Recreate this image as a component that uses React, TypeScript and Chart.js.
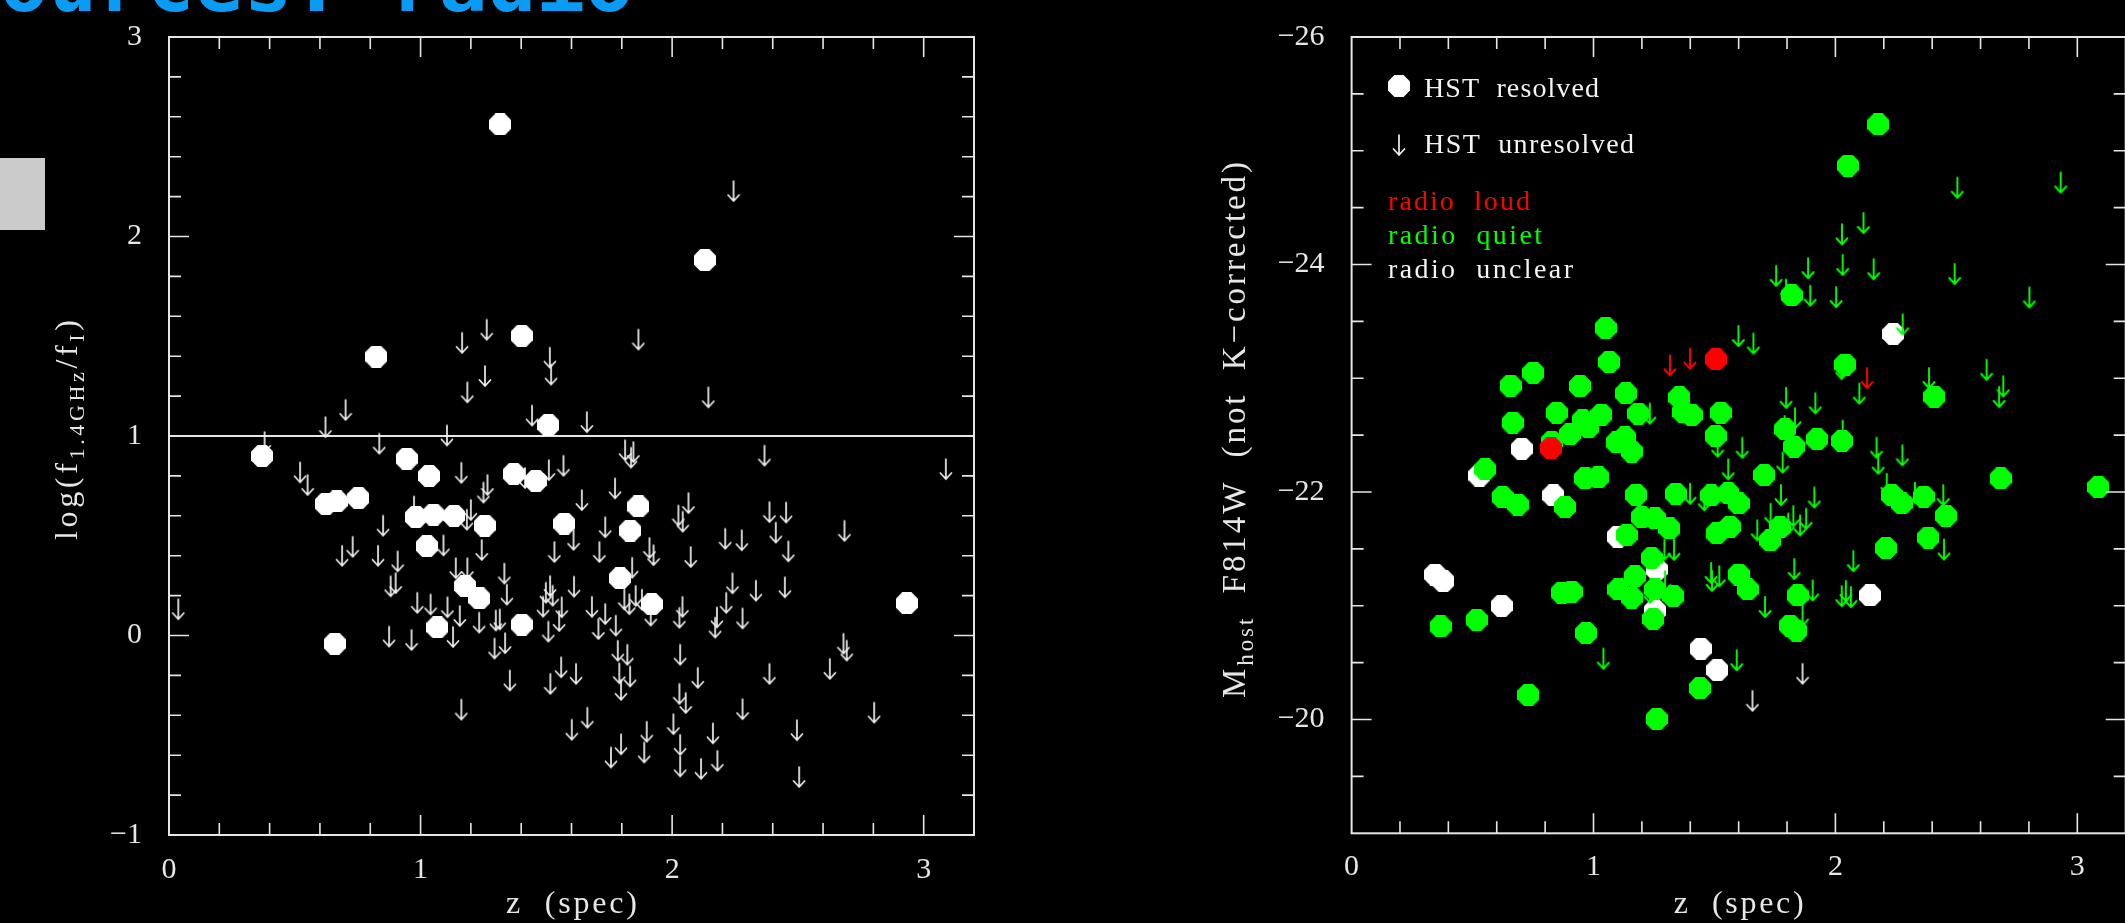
import React, { useEffect, useRef } from 'react';
import { Chart, registerables } from 'chart.js';

Chart.register(...registerables);

type P = [number, number];

// ---------------- LEFT PANEL: log(f1.4GHz/fI) vs z ----------------
const leftResolved: P[] = [
  [1.316, 2.562], [2.13, 1.882], [0.824, 1.398], [1.402, 1.502], [1.508, 1.055],
  [0.37, 0.9], [0.945, 0.886], [1.034, 0.8], [1.37, 0.81], [1.458, 0.775],
  [0.623, 0.66], [0.667, 0.672], [0.753, 0.689], [0.981, 0.594], [1.051, 0.606],
  [1.133, 0.6], [1.255, 0.551], [1.571, 0.561], [1.025, 0.448], [1.866, 0.647],
  [1.833, 0.526], [1.793, 0.287], [1.919, 0.157], [2.933, 0.162], [0.659, -0.041],
  [1.177, 0.248], [1.234, 0.186], [1.067, 0.041], [1.402, 0.055],
];

const leftUnresolved: P[] = [
  [2.244, 2.228], [1.263, 1.533], [1.165, 1.467], [1.866, 1.484], [1.514, 1.393],
  [1.519, 1.308], [1.256, 1.301], [1.186, 1.219], [2.144, 1.194], [0.702, 1.131],
  [1.443, 1.103], [1.661, 1.07], [0.622, 1.045], [1.105, 1.003], [0.38, 0.97],
  [0.836, 0.962], [1.813, 0.929], [1.846, 0.92], [1.837, 0.892], [2.367, 0.902],
  [3.088, 0.834], [0.521, 0.818], [0.551, 0.755], [1.162, 0.816], [1.266, 0.755],
  [1.25, 0.717], [1.51, 0.829], [1.568, 0.851], [1.415, 0.79], [0.974, 0.647],
  [1.2, 0.63], [1.184, 0.581], [0.851, 0.551], [1.773, 0.738], [1.641, 0.679],
  [2.065, 0.664], [2.025, 0.602], [2.042, 0.571], [2.387, 0.619], [2.453, 0.617],
  [2.412, 0.516], [2.685, 0.525], [1.734, 0.543], [1.608, 0.48], [2.211, 0.485],
  [2.277, 0.478], [1.711, 0.419], [1.91, 0.439], [2.462, 0.422], [0.73, 0.445],
  [1.091, 0.452], [1.243, 0.429], [1.532, 0.419], [1.926, 0.403], [2.074, 0.394],
  [1.841, 0.34], [0.688, 0.4], [0.831, 0.4], [0.909, 0.372], [0.901, 0.263],
  [0.881, 0.247], [1.14, 0.338], [1.186, 0.338], [1.61, 0.245], [1.681, 0.144],
  [1.734, 0.108], [1.707, 0.033], [1.776, 0.05], [1.81, 0.182], [1.83, 0.157],
  [1.855, 0.199], [1.88, 0.18], [1.915, 0.1], [2.24, 0.262], [2.333, 0.225],
  [2.448, 0.242], [2.215, 0.164], [2.041, 0.144], [2.029, 0.089], [2.178, 0.091],
  [2.171, 0.04], [2.28, 0.086], [1.784, -0.076], [1.822, -0.096], [2.032, -0.096],
  [1.618, -0.192], [1.79, -0.189], [1.833, -0.205], [1.797, -0.272], [2.102, -0.212],
  [2.387, -0.192], [2.681, -0.041], [2.694, -0.075], [2.627, -0.167], [2.029, -0.292],
  [2.054, -0.338], [2.28, -0.369], [2.803, -0.386], [1.663, -0.412], [1.601, -0.472],
  [2.005, -0.444], [1.899, -0.482], [2.162, -0.49], [2.496, -0.474], [1.797, -0.545],
  [2.032, -0.548], [1.757, -0.611], [1.889, -0.586], [2.18, -0.628], [2.032, -0.656],
  [2.115, -0.668], [2.505, -0.709], [0.037, 0.132], [1.333, 0.311], [1.343, 0.205],
  [0.987, 0.164], [1.04, 0.156], [1.107, 0.142], [1.156, 0.098], [1.233, 0.065],
  [1.299, 0.076], [1.315, 0.081], [0.875, -0.005], [0.964, -0.022], [1.129, -0.007],
  [1.294, -0.065], [1.336, -0.038], [1.515, 0.248], [1.498, 0.215], [1.525, 0.2],
  [1.487, 0.145], [1.561, 0.142], [1.551, 0.073], [1.508, 0.02], [1.559, -0.159],
  [1.355, -0.225], [1.516, -0.242], [1.162, -0.371],
];

const leftRefLine: P[] = [[0, 1], [3.2, 1]];
const leftXTicks = [0, 1, 2, 3];
const leftYTicks = [-1, 0, 1, 2, 3];

// ---------------- RIGHT PANEL: M_host vs z ----------------
const rightGreenDots: P[] = [
  [1.05, -23.443], [1.065, -23.144], [0.751, -23.048], [0.657, -22.935], [0.944, -22.932],
  [1.134, -22.868], [1.355, -22.833], [1.371, -22.703], [1.406, -22.677], [1.526, -22.697],
  [1.505, -22.494], [0.848, -22.697], [0.666, -22.61], [1.033, -22.68], [0.955, -22.63],
  [0.979, -22.57], [0.903, -22.51], [1.185, -22.69], [1.096, -22.436], [1.13, -22.48],
  [1.158, -22.356], [0.827, -22.44], [0.552, -22.2],
  [2.177, -25.232], [2.052, -24.87], [1.819, -23.729], [2.04, -23.121], [2.409, -22.839],
  [1.792, -22.552], [1.829, -22.4], [1.924, -22.464], [2.027, -22.45], [1.706, -22.15],
  [2.683, -22.12],
  [0.624, -21.956], [0.687, -21.89], [0.882, -21.869], [0.965, -22.121], [1.02, -22.13],
  [1.176, -21.976], [1.34, -21.985], [1.486, -21.97], [1.557, -21.99], [1.6, -21.9],
  [1.137, -21.623], [1.199, -21.78], [1.254, -21.768], [1.314, -21.68], [1.24, -21.42],
  [1.171, -21.26], [1.103, -21.144], [1.158, -21.072], [1.254, -21.144], [1.33, -21.086],
  [1.247, -20.884], [1.509, -21.637], [1.564, -21.695], [1.6, -21.275], [0.517, -20.876],
  [0.368, -20.818], [0.868, -21.116], [0.91, -21.124], [0.969, -20.761], [1.44, -20.276],
  [0.731, -20.217], [1.261, -20.005],
  [3.087, -22.044], [2.232, -21.974], [2.274, -21.9], [2.365, -21.96], [2.457, -21.791],
  [2.384, -21.6], [2.209, -21.507], [1.771, -21.69], [1.73, -21.574], [1.637, -21.145],
  [1.844, -21.092], [1.812, -20.826], [1.839, -20.782],
];
const rightRedDots: P[] = [[1.506, -23.167], [0.824, -22.385]];
const rightWhiteDots: P[] = [
  [2.239, -23.39], [0.703, -22.38], [0.528, -22.145], [0.834, -21.971], [1.1, -21.608],
  [1.261, -21.32], [1.254, -20.957], [0.345, -21.275], [0.379, -21.217], [0.62, -20.999],
  [1.443, -20.623], [1.512, -20.435], [2.143, -21.092],
];
const rightGreenArrows: P[] = [
  [1.513, -22.4], [1.158, -22.37], [1.233, -22.69], [2.504, -24.675], [2.931, -24.721],
  [2.116, -24.365], [2.027, -24.266], [1.755, -23.901], [1.887, -23.968], [2.03, -23.997],
  [2.158, -23.959], [2.493, -23.918], [1.796, -23.78], [1.896, -23.726], [2.003, -23.714],
  [2.802, -23.711], [2.278, -23.474], [1.599, -23.372], [1.661, -23.306], [2.026, -23.083],
  [2.387, -23.002], [2.625, -23.075], [2.694, -22.93], [2.677, -22.837], [1.796, -22.829],
  [1.917, -22.78], [2.099, -22.866], [1.833, -22.649], [2.03, -22.54], [1.615, -22.39],
  [2.17, -22.39], [2.277, -22.323], [1.782, -22.26], [2.177, -22.25], [1.557, -22.2],
  [1.399, -21.985], [1.458, -21.928], [1.293, -21.493], [1.333, -21.493], [1.234, -21.115],
  [1.296, -21.216], [1.486, -21.289], [1.52, -21.26], [1.49, -21.22], [1.041, -20.536],
  [1.592, -20.522], [1.775, -21.973], [1.913, -21.953], [2.212, -22.072], [2.329, -21.994],
  [2.446, -21.973], [2.449, -21.495], [1.732, -21.809], [1.826, -21.788], [1.879, -21.765],
  [1.854, -21.707], [1.805, -21.724], [1.677, -21.664], [1.83, -21.324], [2.074, -21.393],
  [1.906, -21.136], [2.026, -21.085], [2.043, -21.131], [2.064, -21.077], [1.709, -20.99],
  [1.864, -20.915], [1.79, -22.58],
];
const rightRedArrows: P[] = [[1.316, -23.115], [1.399, -23.173], [2.131, -23.002]];
const rightWhiteArrows: P[] = [[1.864, -20.403], [1.657, -20.165]];
const rightXTicks = [0, 1, 2, 3];
const rightYTicks = [-26, -24, -22, -20];

// ---------------- styles ----------------
const SERIF = '"Liberation Serif", "DejaVu Serif", serif';
const FG = '#e6e6e6';
const WHITE = '#ffffff';
const GREEN = '#00ff00';
const RED = '#ff0000';

function octagon(color: string, d = 22): HTMLCanvasElement {
  const c = document.createElement('canvas');
  c.width = d;
  c.height = d;
  const ctx = c.getContext('2d')!;
  const r = d / 2 / Math.cos(Math.PI / 8);
  ctx.fillStyle = color;
  ctx.beginPath();
  for (let k = 0; k < 8; k++) {
    const a = Math.PI / 8 + (k * Math.PI) / 4;
    const px = d / 2 + r * Math.cos(a);
    const py = d / 2 + r * Math.sin(a);
    if (k === 0) ctx.moveTo(px, py);
    else ctx.lineTo(px, py);
  }
  ctx.closePath();
  ctx.fill();
  return c;
}

function arrow(color: string, lw = 1.7): HTMLCanvasElement {
  const w = 14, h = 24;
  const c = document.createElement('canvas');
  c.width = w;
  c.height = h;
  const ctx = c.getContext('2d')!;
  ctx.strokeStyle = color;
  ctx.lineWidth = lw;
  ctx.lineCap = 'round';
  ctx.lineJoin = 'round';
  const cx = w / 2;
  ctx.beginPath();
  ctx.moveTo(cx, 2);
  ctx.lineTo(cx, h - 2);
  ctx.moveTo(cx - 5.5, h - 8);
  ctx.lineTo(cx, h - 2);
  ctx.lineTo(cx + 5.5, h - 8);
  ctx.stroke();
  return c;
}

type Seg = { t: string; size: number; dy: number };

function drawSpaced(ctx: CanvasRenderingContext2D, segs: Seg[], x: number, y: number,
  target: number, align: 'left' | 'center', color: string) {
  ctx.save();
  ctx.fillStyle = color;
  ctx.textBaseline = 'alphabetic';
  ctx.textAlign = 'left';
  const widths: number[] = [];
  let natural = 0;
  let n = 0;
  for (const s of segs) {
    ctx.font = `${s.size}px ${SERIF}`;
    (ctx as any).letterSpacing = '0px';
    const w = ctx.measureText(s.t).width;
    widths.push(w);
    natural += w;
    n += s.t.length;
  }
  const ls = n > 1 ? (target - natural) / (n - 1) : 0;
  let cx = align === 'center' ? x - target / 2 : x;
  segs.forEach((s, i) => {
    ctx.font = `${s.size}px ${SERIF}`;
    (ctx as any).letterSpacing = `${ls}px`;
    ctx.fillText(s.t, cx, y + s.dy);
    cx += widths[i] + s.t.length * ls;
  });
  (ctx as any).letterSpacing = '0px';
  ctx.restore();
}

function frameTicks(xMinor: number, xMajor: number, yMinor: number, yMajor: number) {
  return {
    id: 'frameTicks',
    afterDatasetsDraw(chart: any) {
      const { ctx, chartArea: a } = chart;
      const xs = chart.scales.x;
      const ys = chart.scales.y;
      ctx.save();
      ctx.strokeStyle = FG;
      ctx.lineWidth = 2;
      ctx.strokeRect(a.left, a.top, a.right - a.left, a.bottom - a.top);
      ctx.lineWidth = 1.6;
      ctx.beginPath();
      const nx = Math.round((xs.max - xs.min) / xMinor);
      for (let i = 1; i < nx; i++) {
        const v = xs.min + i * xMinor;
        const q = v / xMajor;
        const L = Math.abs(q - Math.round(q)) < 1e-6 ? 20 : 12;
        const p = xs.getPixelForValue(v);
        ctx.moveTo(p, a.bottom);
        ctx.lineTo(p, a.bottom - L);
        ctx.moveTo(p, a.top);
        ctx.lineTo(p, a.top + L);
      }
      const ny = Math.round((ys.max - ys.min) / yMinor);
      for (let i = 1; i < ny; i++) {
        const v = ys.min + i * yMinor;
        const q = v / yMajor;
        const L = Math.abs(q - Math.round(q)) < 1e-6 ? 20 : 12;
        const p = ys.getPixelForValue(v);
        ctx.moveTo(a.left, p);
        ctx.lineTo(a.left + L, p);
        ctx.moveTo(a.right, p);
        ctx.lineTo(a.right - L, p);
      }
      ctx.stroke();
      ctx.restore();
    },
  };
}

const fmt = (v: any) => (Number(v) < 0 ? '\u2212' + Math.abs(Number(v)) : String(v));

function scatter(pts: P[], style: HTMLCanvasElement) {
  return {
    type: 'scatter' as const,
    data: pts.map(([x, y]) => ({ x, y })),
    pointStyle: style,
    pointRadius: 11,
    pointHoverRadius: 11,
  };
}

function leftConfig(): any {
  const dot = octagon(WHITE);
  const arr = arrow('#f0f0f0');
  return {
    type: 'scatter',
    data: {
      datasets: [
        scatter(leftResolved, dot),
        scatter(leftUnresolved, arr),
        {
          type: 'scatter',
          data: leftRefLine.map(([x, y]) => ({ x, y })),
          showLine: true,
          borderColor: FG,
          borderWidth: 2,
          pointRadius: 0,
        },
      ],
    },
    options: {
      responsive: false,
      animation: false,
      devicePixelRatio: 1,
      events: [],
      layout: { padding: { left: 0, top: 30, right: 101, bottom: 0 } },
      plugins: { legend: { display: false }, tooltip: { enabled: false } },
      scales: {
        x: {
          type: 'linear', min: 0, max: 3.2,
          grid: { display: false }, border: { display: false },
          afterFit: (s: any) => { s.height = 88; },
          afterBuildTicks: (s: any) => { s.ticks = leftXTicks.map((v) => ({ value: v })); },
          ticks: { color: FG, font: { family: SERIF, size: 30 }, padding: 9, callback: fmt, maxRotation: 0, autoSkip: false },
        },
        y: {
          type: 'linear', min: -1, max: 3,
          grid: { display: false }, border: { display: false },
          afterFit: (s: any) => { s.width = 169; },
          afterBuildTicks: (s: any) => { s.ticks = leftYTicks.map((v) => ({ value: v })); },
          ticks: { color: FG, font: { family: SERIF, size: 30 }, padding: 19, callback: fmt, autoSkip: false },
        },
      },
    },
    plugins: [
      frameTicks(0.2, 1, 0.2, 1),
      {
        id: 'leftDecor',
        afterDraw(chart: any) {
          const { ctx, chartArea: a } = chart;
          ctx.save();
          // slide remnants
          ctx.fillStyle = '#cbcbcb';
          ctx.fillRect(0, 158, 45, 72);
          ctx.fillStyle = '#0a9cf5';
          ctx.font = 'bold 81px "DejaVu Sans Mono", monospace';
          ctx.textAlign = 'left';
          ctx.textBaseline = 'alphabetic';
          ctx.fillText('Sources: radio', -49, 11);
          ctx.restore();
          // x title
          drawSpaced(ctx, [{ t: 'z  (spec)', size: 32, dy: 0 }], (a.left + a.right) / 2, 913, 131, 'center', FG);
          // y title
          ctx.save();
          ctx.translate(77, 430);
          ctx.rotate(-Math.PI / 2);
          drawSpaced(ctx, [
            { t: 'log(f', size: 32, dy: 0 },
            { t: '1.4GHz', size: 22, dy: 7 },
            { t: '/f', size: 32, dy: 0 },
            { t: 'I', size: 22, dy: 7 },
            { t: ')', size: 32, dy: 0 },
          ], 0, 0, 220, 'center', FG);
          ctx.restore();
        },
      },
    ],
  };
}

function rightConfig(): any {
  const gDot = octagon(GREEN);
  const rDot = octagon(RED);
  const wDot = octagon(WHITE);
  const gArr = arrow(GREEN, 1.9);
  const rArr = arrow(RED, 1.9);
  const wArr = arrow('#f0f0f0', 1.7);
  return {
    type: 'scatter',
    data: {
      datasets: [
        scatter(rightGreenArrows, gArr),
        scatter(rightRedArrows, rArr),
        scatter(rightWhiteArrows, wArr),
        scatter(rightRedDots, rDot),
        scatter(rightGreenDots, gDot),
        scatter(rightWhiteDots, wDot),
      ],
    },
    options: {
      responsive: false,
      animation: false,
      devicePixelRatio: 1,
      events: [],
      layout: { padding: { left: 0, top: 29.3, right: 14.3, bottom: 0 } },
      plugins: { legend: { display: false }, tooltip: { enabled: false } },
      scales: {
        x: {
          type: 'linear', min: 0, max: 3.2,
          grid: { display: false }, border: { display: false },
          afterFit: (s: any) => { s.height = 89.7; },
          afterBuildTicks: (s: any) => { s.ticks = rightXTicks.map((v) => ({ value: v })); },
          ticks: { color: FG, font: { family: SERIF, size: 30 }, padding: 8, callback: fmt, maxRotation: 0, autoSkip: false },
        },
        y: {
          type: 'linear', min: -26, max: -19, reverse: true,
          grid: { display: false }, border: { display: false },
          afterFit: (s: any) => { s.width = 261.6; },
          afterBuildTicks: (s: any) => { s.ticks = rightYTicks.map((v) => ({ value: v })); },
          ticks: { color: FG, font: { family: SERIF, size: 30 }, padding: 19, callback: fmt, autoSkip: false },
        },
      },
    },
    plugins: [
      frameTicks(0.2, 1, 0.5, 2),
      {
        id: 'rightDecor',
        afterDraw(chart: any) {
          const { ctx, chartArea: a } = chart;
          // legend
          ctx.drawImage(wDot, 309 - 11, 86 - 11);
          ctx.drawImage(wArr, 309 - 7, 145 - 12);
          drawSpaced(ctx, [{ t: 'HST  resolved', size: 28, dy: 0 }], 334, 97, 175, 'left', '#f4f4f4');
          drawSpaced(ctx, [{ t: 'HST  unresolved', size: 28, dy: 0 }], 334, 153, 210, 'left', '#f4f4f4');
          drawSpaced(ctx, [{ t: 'radio  loud', size: 28, dy: 0 }], 298, 210, 142, 'left', RED);
          drawSpaced(ctx, [{ t: 'radio  quiet', size: 28, dy: 0 }], 298, 244, 154, 'left', GREEN);
          drawSpaced(ctx, [{ t: 'radio  unclear', size: 28, dy: 0 }], 298, 278, 185, 'left', '#f4f4f4');
          // x title
          drawSpaced(ctx, [{ t: 'z  (spec)', size: 32, dy: 0 }], (a.left + a.right) / 2, 913, 130, 'center', FG);
          // y title
          ctx.save();
          ctx.translate(155, 430);
          ctx.rotate(-Math.PI / 2);
          drawSpaced(ctx, [
            { t: 'M', size: 33, dy: 0 },
            { t: 'host', size: 23, dy: 8 },
            { t: '  F814W  (not  K\u2212corrected)', size: 33, dy: 0 },
          ], 0, 0, 536, 'center', FG);
          ctx.restore();
        },
      },
    ],
  };
}

export default function App() {
  const leftRef = useRef<HTMLCanvasElement>(null);
  const rightRef = useRef<HTMLCanvasElement>(null);
  useEffect(() => {
    document.body.style.background = '#000';
    const lc = new Chart(leftRef.current!, leftConfig());
    const rc = new Chart(rightRef.current!, rightConfig());
    return () => {
      lc.destroy();
      rc.destroy();
    };
  }, []);
  return (
    <div style={{ position: 'fixed', left: 0, top: 0, width: 2125, height: 923, overflow: 'hidden', background: '#000' }}>
      <canvas ref={leftRef} width={1075} height={923}
        style={{ position: 'absolute', left: 0, top: 0, width: 1075, height: 923 }} />
      <canvas ref={rightRef} width={1050} height={923}
        style={{ position: 'absolute', left: 1090, top: 0, width: 1050, height: 923 }} />
    </div>
  );
}
